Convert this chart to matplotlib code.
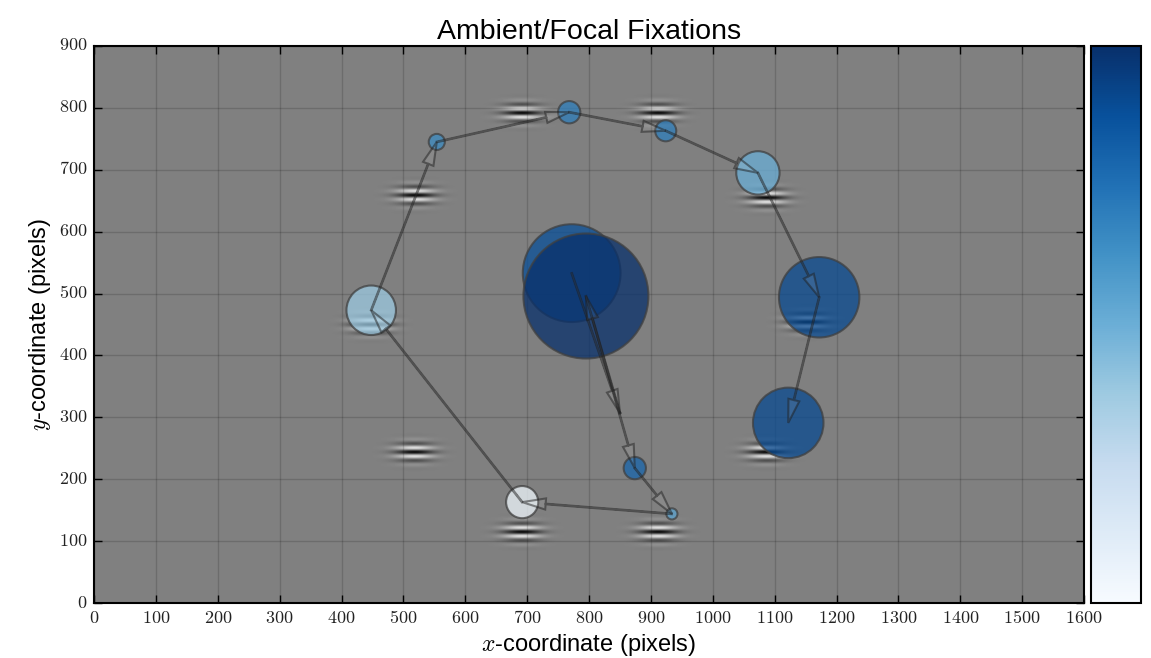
import numpy as np
import matplotlib
matplotlib.use("Agg")
import matplotlib.pyplot as plt
from matplotlib.patches import Circle
from matplotlib.cm import ScalarMappable
from matplotlib.colors import Normalize

plt.style.use("classic")
plt.rcParams["mathtext.fontset"] = "cm"
plt.rcParams["font.family"] = ["Liberation Sans", "DejaVu Sans"]

# fixations in viewing order (screen pixels), radius ~ duration, colour ~ ambient/focal value
fix_x = [772, 850, 795, 874, 934, 692, 448, 554, 768, 924, 1073, 1172, 1122]
fix_y = [533, 307, 496, 218, 144, 163, 473, 745, 793, 763, 695, 494, 291]
fix_r = [79, 1, 101, 18, 9, 26, 40, 13, 18, 17, 35, 65, 57]
fix_k = [0.88, 0.7, 1.0, 0.8, 0.55, 0.04, 0.38, 0.65, 0.7, 0.7, 0.5, 0.9, 0.9]

# stimulus: Gabor patch centres
gabor_x = [1154, 1088, 912, 692, 520, 448, 518, 692, 912, 1087]
gabor_y = [454, 655, 792, 792, 659, 450, 244, 115, 115, 244]

W, H = 1600, 900

# build the stimulus image on a grid close to the on-screen size
nx, ny = 990, 557
xs = (np.arange(nx) + 0.5) * W / nx
ys = (np.arange(ny) + 0.5) * H / ny
xx, yy = np.meshgrid(xs, ys)
patch = np.zeros((ny, nx))
for gx, gy in zip(gabor_x, gabor_y):
    dx = xx - gx
    dy = yy - gy
    env = np.exp(-(dx ** 2) / (2 * 21.0 ** 2) - (dy ** 2) / (2 * 10.5 ** 2))
    env[env < 2e-3] = 0.0
    patch -= 0.45 * env * np.cos(2 * np.pi * dy / 14.5)
img = np.clip(0.502 + patch, 0, 1)

fig = plt.figure(figsize=(11.51, 6.58), dpi=100)
fig.patch.set_facecolor("white")
ax = fig.add_axes([94 / 1151, 1 - 603 / 658, 990 / 1151, 557 / 658])
ax.imshow(img, cmap="gray", vmin=0, vmax=1, origin="lower",
          extent=[0, W, 0, H], aspect="auto", interpolation="bilinear")

cmap = plt.get_cmap("Blues")
for x, y, r, k in zip(fix_x, fix_y, fix_r, fix_k):
    ax.add_patch(Circle((x, y), r, facecolor=cmap(k), edgecolor=(0.25, 0.25, 0.25),
                        lw=1.5, alpha=0.75, zorder=3))

# saccades between consecutive fixations
for i in range(len(fix_x) - 1):
    x0, y0 = fix_x[i], fix_y[i]
    dx, dy = fix_x[i + 1] - x0, fix_y[i + 1] - y0
    ax.arrow(x0, y0, dx, dy, width=1.0, head_width=18, head_length=38,
             length_includes_head=True, facecolor=(1, 1, 1, 0.08),
             edgecolor=(0.12, 0.12, 0.12, 0.5), lw=1.5, zorder=4)

ax.set_xlim(0, W)
ax.set_ylim(0, H)
ax.set_xticks(np.arange(0, 1601, 100))
ax.set_yticks(np.arange(0, 901, 100))
ax.set_xticklabels([f"${v}$" for v in range(0, 1601, 100)], fontsize=13)
ax.set_yticklabels([f"${v}$" for v in range(0, 901, 100)], fontsize=13)
ax.tick_params(direction="in", length=6, width=1, top=True, right=True, pad=5,
               labelcolor="#222222")
ax.grid(True, linestyle="-", color="k", alpha=0.15, lw=1)
for s in ax.spines.values():
    s.set_linewidth(1.5)

ax.set_title("Ambient/Focal Fixations", fontsize=20.5, pad=5)
ax.set_xlabel("$x$-coordinate (pixels)", fontsize=17, labelpad=4)
ax.set_ylabel("$y$-coordinate (pixels)", fontsize=17, labelpad=4)

cax = fig.add_axes([1091 / 1151, 1 - 603 / 658, 50 / 1151, 557 / 658])
cb = fig.colorbar(ScalarMappable(norm=Normalize(0, 1), cmap=cmap), cax=cax, ticks=[])
cb.outline.set_linewidth(1.5)

fig.savefig("out.png", dpi=100)
